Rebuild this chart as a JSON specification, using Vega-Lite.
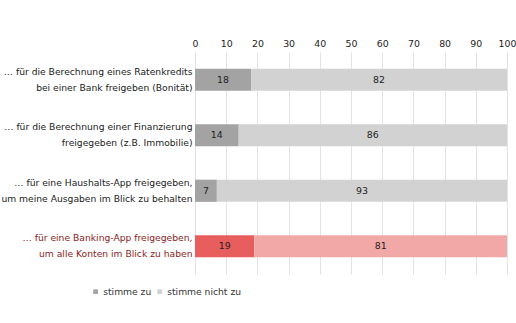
{
  "$schema": "https://vega.github.io/schema/vega-lite/v6.json",
  "width": 312,
  "height": 222,
  "autosize": {"type": "none"},
  "padding": {"left": 195, "top": 52, "right": 9, "bottom": 49},
  "background": "white",
  "config": {
    "font": "DejaVu Sans",
    "view": {"stroke": null},
    "axisX": {
      "orient": "top",
      "title": null,
      "domain": false,
      "ticks": false,
      "values": [0, 10, 20, 30, 40, 50, 60, 70, 80, 90, 100],
      "labelOverlap": false,
      "labelFontSize": 9.4,
      "labelColor": "#222222",
      "labelPadding": 4,
      "gridColor": "#e3e3e3",
      "labelFlush": false
    }
  },
  "data": {
    "values": [
      {"q": "… für die Berechnung eines Ratenkredits|bei einer Bank freigeben (Bonität)", "answer": "stimme zu", "value": 18, "hl": false},
      {"q": "… für die Berechnung eines Ratenkredits|bei einer Bank freigeben (Bonität)", "answer": "stimme nicht zu", "value": 82, "hl": false},
      {"q": "… für die Berechnung einer Finanzierung|freigegeben (z.B. Immobilie)", "answer": "stimme zu", "value": 14, "hl": false},
      {"q": "… für die Berechnung einer Finanzierung|freigegeben (z.B. Immobilie)", "answer": "stimme nicht zu", "value": 86, "hl": false},
      {"q": "… für eine Haushalts-App freigegeben,|um meine Ausgaben im Blick zu behalten", "answer": "stimme zu", "value": 7, "hl": false},
      {"q": "… für eine Haushalts-App freigegeben,|um meine Ausgaben im Blick zu behalten", "answer": "stimme nicht zu", "value": 93, "hl": false},
      {"q": "… für eine Banking-App freigegeben,|um alle Konten im Blick zu haben", "answer": "stimme zu", "value": 19, "hl": true},
      {"q": "… für eine Banking-App freigegeben,|um alle Konten im Blick zu haben", "answer": "stimme nicht zu", "value": 81, "hl": true}
    ]
  },
  "transform": [
    {"calculate": "datum.answer == 'stimme zu' ? 0 : 1", "as": "ord"},
    {"calculate": "datum.hl ? datum.answer + ' (hl)' : datum.answer", "as": "key"},
    {"window": [{"op": "sum", "field": "value", "as": "cum"}], "groupby": ["q"], "sort": [{"field": "ord"}], "frame": [null, 0]},
    {"calculate": "datum.cum - datum.value / 2", "as": "mid"}
  ],
  "encoding": {
    "y": {
      "field": "q",
      "type": "nominal",
      "sort": null,
      "scale": {"paddingInner": 0.6, "paddingOuter": 0.3},
      "axis": {
        "title": null,
        "domain": false,
        "ticks": false,
        "labelExpr": "split(datum.label, '|')",
        "labelFontSize": 9.2,
        "labelLineHeight": 16,
        "labelOffset": -8,
        "labelPadding": 3,
        "labelLimit": 300,
        "labelColor": {"condition": {"test": "indexof(datum.label, 'Banking') >= 0", "value": "#8a1c1c"}, "value": "#222222"}
      }
    }
  },
  "layer": [
    {
      "mark": {"type": "bar"},
      "encoding": {
        "x": {
          "field": "value",
          "type": "quantitative",
          "stack": "zero",
          "scale": {"domain": [0, 100], "nice": false},
          "axis": {"values": [0, 10, 20, 30, 40, 50, 60, 70, 80, 90, 100], "labelOverlap": false}
        },
        "color": {
          "field": "key",
          "type": "nominal",
          "scale": {
            "domain": ["stimme zu", "stimme nicht zu", "stimme zu (hl)", "stimme nicht zu (hl)"],
            "range": ["#a3a3a3", "#d2d2d2", "#e85d5d", "#f3a8a8"]
          },
          "legend": {
            "values": ["stimme zu", "stimme nicht zu"],
            "title": null,
            "orient": "none",
            "direction": "horizontal",
            "legendX": -104,
            "legendY": 235,
            "symbolType": "square",
            "symbolSize": 22,
            "symbolStrokeWidth": 0,
            "labelFontSize": 9.2,
            "labelColor": "#333333",
            "labelOffset": 3,
            "columnPadding": 3
          }
        },
        "order": {"field": "ord", "type": "quantitative"}
      }
    },
    {
      "mark": {"type": "text", "fontSize": 9.4, "color": "#222222", "baseline": "middle"},
      "encoding": {
        "x": {
          "field": "mid",
          "type": "quantitative",
          "axis": {"values": [0, 10, 20, 30, 40, 50, 60, 70, 80, 90, 100], "labelOverlap": false}
        },
        "text": {"field": "value", "type": "quantitative"}
      }
    }
  ]
}
